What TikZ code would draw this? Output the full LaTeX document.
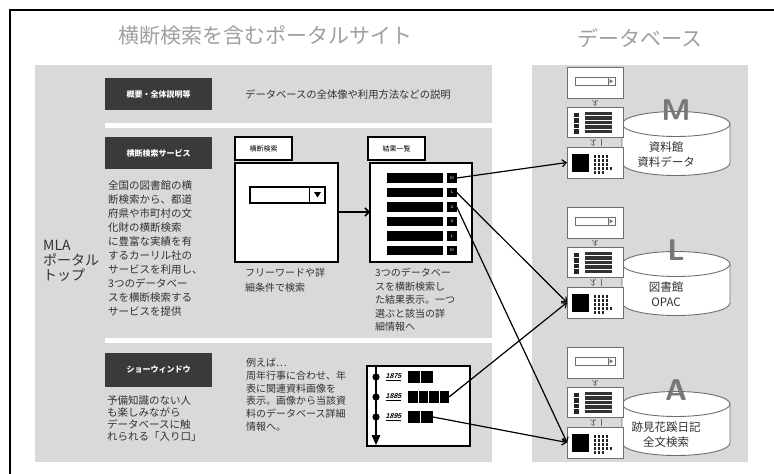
\documentclass[tikz,border=0pt]{standalone}
\usepackage{fontspec}
\newfontfamily\jp{Noto Sans CJK JP}
\newfontfamily\yr[FakeSlant=0.25]{Liberation Sans}
\usetikzlibrary{arrows.meta}
\definecolor{panel}{RGB}{217,217,217}
\definecolor{headfill}{RGB}{58,58,58}
\definecolor{titlegray}{RGB}{160,160,160}
\definecolor{bodytext}{RGB}{50,50,50}
\definecolor{dbline}{RGB}{110,110,110}
\definecolor{lettergray}{RGB}{120,120,120}
\tikzset{
  headbox/.style={fill=headfill, text=white, font=\jp\bfseries\fontsize{8}{9}\selectfont, minimum width=107pt, minimum height=32pt, inner sep=0pt, outer sep=0pt},
  framebox/.style={draw=black, line width=1.5pt, fill=white, inner sep=0pt, outer sep=0pt},
  lblbox/.style={draw=black, line width=1.3pt, fill=white, font=\jp\fontsize{7}{8}\selectfont, minimum width=57pt, minimum height=23pt, inner sep=0pt},
  blk/.style={fill=black, inner sep=0pt, outer sep=0pt},
  body/.style={text=bodytext, inner sep=0pt, anchor=north west, align=left},
  dbbox/.style={draw=dbline, line width=0.8pt, fill=white, minimum width=56pt, inner sep=0pt, outer sep=0pt},
  cyl/.style={draw=dbline, line width=0.9pt, fill=white},
  link/.style={draw=black, line width=1.2pt, -{Straight Barb[length=4pt,width=7pt]}},
  minilink/.style={draw=dbline, line width=0.6pt, -{Straight Barb[length=1.8pt,width=3.5pt]}},
  title/.style={text=titlegray, font=\jp\fontsize{21}{22}\selectfont, inner sep=0pt}
}
\begin{document}
\begin{tikzpicture}[x=1pt,y=-1pt]
\useasboundingbox (0,0) rectangle (774,474);
\fill[white] (0,0) rectangle (774,474);
% outer frame
\draw[line width=1.6pt] (10,474) -- (10,10) -- (774,10);
% titles
\node[title] (t1) at (265,36) {横断検索を含むポータルサイト};
\node[title] (t2) at (640,38) {データベース};
% panels
\fill[panel] (35,65) rectangle (492,462);
\fill[panel] (532,65) rectangle (748,462);
\fill[white] (105,123) rectangle (492,128);
\fill[white] (105,338) rectangle (492,343);
% MLA
\node[body, font=\jp\fontsize{14}{15}\selectfont] (mla) at (43,240) {MLA\\ポータル\\トップ};
% section 1
\node[headbox] (h1) at (158.5,94) {概要・全体説明等};
\node[body, anchor=west, font=\jp\fontsize{10.3}{12}\selectfont] (s1) at (245,95) {データベースの全体像や利用方法などの説明};
% section 2
\node[headbox] (h2) at (158.5,153) {横断検索サービス};
\node[body, font=\jp\fontsize{10.5}{14}\selectfont] (s2) at (108,180) {全国の図書館の横\\断検索から、都道\\府県や市町村の文\\化財の横断検索\\に豊富な実績を有\\するカーリル社の\\サービスを利用し、\\3つのデータベー\\スを横断検索する\\サービスを提供};
\node[lblbox] (slbl) at (263.5,148.5) {横断検索};
\node[framebox, minimum width=103pt, minimum height=99pt] (sbox) at (286.5,212.5) {};
\node[draw=black, line width=1.2pt, fill=white, minimum width=75pt, minimum height=16pt, inner sep=0pt] (drop) at (287.5,195) {};
\draw[line width=1pt] (309,187) -- (309,203);
\fill (314,192) -- (321,192) -- (317.5,197.5) -- cycle;
\node[body, font=\jp\fontsize{10}{15}\selectfont] (stxt) at (245,268) {フリーワードや詳\\細条件で検索};
\node[lblbox] (rlbl) at (396.5,148.5) {結果一覧};
\node[framebox, minimum width=102pt, minimum height=99pt] (rbox) at (421,212.5) {};
\foreach \i/\yy/\lt in {1/178/M,2/192.5/L,3/207/A,4/221.5/A,5/236/L,6/250.5/M}{
  \node[blk, minimum width=56pt, minimum height=9.5pt] (bar\i) at (415,\yy) {};
  \node[blk, minimum width=9.5pt, minimum height=9.5pt, text=white, font=\fontsize{4}{4}\selectfont\sffamily] (r\i) at (452,\yy) {\lt};
}
\draw[line width=1.5pt, -{Straight Barb[length=4pt,width=8pt]}] (sbox.east |- 0,212) -- (rbox.west |- 0,212);
\node[body, font=\jp\fontsize{10}{13.5}\selectfont] (rtxt) at (375,268) {3つのデータベー\\スを横断検索し\\た結果表示。一つ\\選ぶと該当の詳\\細情報へ};
% section 3
\node[headbox, minimum height=34pt] (h3) at (158.5,370) {ショーウィンドウ};
\node[body, font=\jp\fontsize{10.5}{12}\selectfont] (s3) at (107,395) {予備知識のない人\\も楽しみながら\\データベースに触\\れられる「入り口」};
\node[body, font=\jp\fontsize{10}{12.8}\selectfont] (s3b) at (246,358) {例えば…\\周年行事に合わせ、年\\表に関連資料画像を\\表示。画像から当該資\\料のデータベース詳細\\情報へ。};
\node[framebox, minimum width=103pt, minimum height=80pt] (tbox) at (418.5,406) {};
\coordinate (tl0) at (376,367);
\coordinate (tl1) at (376,436);
\draw[line width=1.6pt] (tl0) -- (tl1);
\fill (371.5,435) -- (380.5,435) -- (376,445) -- cycle;
\foreach \i/\yy/\yt in {1/377/1875,2/397/1885,3/417/1895}{
  \fill (376,\yy) circle[radius=3.6pt];
  \node[inner sep=0pt, font=\yr\bfseries\fontsize{7}{7}\selectfont] (y\i) at (393.5,\yy) {\underline{\yt}};
}
\node[blk, minimum width=12pt, minimum height=12pt] (a1) at (414,377) {};
\node[blk, minimum width=12pt, minimum height=12pt] (a2) at (427,377) {};
\node[blk, minimum width=9.5pt, minimum height=12pt] (b1) at (412.75,397) {};
\node[blk, minimum width=9.5pt, minimum height=12pt] (b2) at (423.25,397) {};
\node[blk, minimum width=9.5pt, minimum height=12pt] (b3) at (433.75,397) {};
\node[blk, minimum width=9.5pt, minimum height=12pt] (b4) at (444.25,397) {};
\node[blk, minimum width=12pt, minimum height=12pt] (c1) at (414,417) {};
\node[blk, minimum width=12pt, minimum height=12pt] (c2) at (427,417) {};
% databases
\foreach \g/\T/\la/\lb in {M/67/資料館/資料データ, L/207/図書館/OPAC, A/347/跡見花蹊日記/全文検索}{
  % cylinder
  \path[cyl] (622,\T+57) -- (622,\T+96) arc[start angle=180,end angle=360,x radius=54pt,y radius=12.5pt] -- (730,\T+57) -- cycle;
  \draw[cyl] (676,\T+57) ellipse[x radius=54pt,y radius=12.5pt];
  \node[inner sep=0pt, text=lettergray, font=\fontsize{30}{30}\selectfont\sffamily\bfseries] (let\g) at (676,\T+43) {\g};
  \node[inner sep=0pt, text=bodytext, font=\jp\fontsize{11.5}{13}\selectfont] (la\g) at (666,\T+80) {\la};
  \node[inner sep=0pt, text=bodytext, font=\jp\fontsize{11.5}{13}\selectfont] (lb\g) at (666,\T+95) {\lb};
  % search box
  \node[dbbox, minimum height=31pt] (s\g) at (595,\T+15.5) {};
  \draw[dbline, line width=0.7pt, fill=white] (575,\T+10) rectangle (615,\T+18.5);
  \draw[dbline, line width=0.7pt] (608,\T+10) -- (608,\T+18.5);
  \fill[dbline] (609.5,\T+12) -- (613,\T+14.25) -- (609.5,\T+16.5) -- cycle;
  % list box
  \node[dbbox, minimum height=30pt] (l\g) at (595,\T+55) {};
  \foreach \k in {0,1,2,3}{
    \fill[black!85] (574,\T+45.5+\k*5.5) rectangle (579,\T+50+\k*5.5);
  }
  \foreach \k in {0,1,2,3,4}{
    \fill[black!80] (585,\T+44.5+\k*4.6) rectangle (612,\T+48+\k*4.6);
  }
  % detail box
  \node[dbbox, minimum height=31pt] (d\g) at (595,\T+95.5) {};
  \fill[black] (572,\T+87) rectangle (589,\T+105);
  \foreach \r/\n in {0/4,1/4,2/4,3/5,4/3}{
    \foreach \c in {1,...,\n}{
      \fill[black!85] (589.5+\c*4,\T+88+\r*4) rectangle (592+\c*4,\T+90.5+\r*4);
    }
  }
  % mini arrows
  \coordinate (m1\g) at (595,\T+32.5);
  \coordinate (m2\g) at (595,\T+39);
  \draw[minilink] (m1\g) -- (m2\g);
  \draw[dbline, line width=0.5pt] (592,\T+33) -- (595,\T+36) -- (598,\T+33);
  \coordinate (m3\g) at (593,\T+71.5);
  \coordinate (m4\g) at (593,\T+79);
  \draw[minilink] (m3\g) -- (m4\g);
  \draw[dbline, line width=0.5pt] (590,\T+72) -- (593,\T+75) -- (596,\T+72);
  \draw[dbline, line width=0.8pt] (601,\T+71.5) -- (601,\T+79);
}
% connectors
\draw[link] (r1.east) -- (dM.west);
\draw[link] (r2.east) -- (dL.west);
\draw[link] (r3.east) -- (dA.west);
\draw[link] (b4.east) -- (dL.west);
\draw[link] (c2.east) -- (dA.west);
\end{tikzpicture}
\end{document}
